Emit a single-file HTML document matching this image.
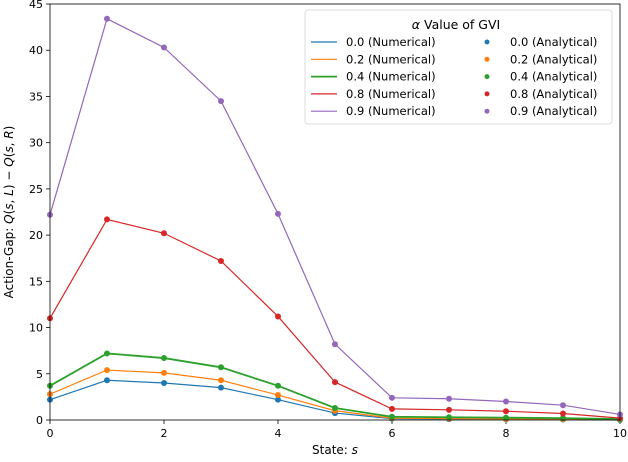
<!DOCTYPE html>
<html><head><meta charset="utf-8"><style>
body{margin:0;background:#fff;font-family:"DejaVu Sans","Liberation Sans",sans-serif;}
svg text{font-family:"DejaVu Sans","Liberation Sans",sans-serif;fill:#000;}
</style></head><body>
<svg id="chart" width="628" height="458" xmlns="http://www.w3.org/2000/svg"></svg>
<script>
const states=[0,1,2,3,4,5,6,7,8,9,10];
const seriesLabels=["0.0","0.2","0.4","0.8","0.9"];
const colors=["#1f77b4","#ff7f0e","#2ca02c","#d62728","#9467bd"];
const s00=[2.2,4.3,4.0,3.5,2.2,0.75,0.15,0.1,0.08,0.05,0.0];
const s02=[2.8,5.4,5.1,4.3,2.7,1.0,0.2,0.15,0.12,0.1,0.05];
const s04=[3.7,7.2,6.7,5.7,3.7,1.3,0.35,0.3,0.25,0.2,0.1];
const s08=[11.0,21.7,20.2,17.2,11.2,4.1,1.2,1.1,0.95,0.7,0.2];
const s09=[22.2,43.4,40.3,34.5,22.3,8.2,2.4,2.3,2.0,1.6,0.6];
const xTicks=[0,2,4,6,8,10];
const yTicks=[0,5,10,15,20,25,30,35,40,45];
const allSeries=[s00,s02,s04,s08,s09];
const L=50,R=620,T=4,B=420;
const xs=v=>L+(v-0)/(10-0)*(R-L);
const ys=v=>B-(v/45)*(B-T);
const svg=document.getElementById('chart');
const NS="http://www.w3.org/2000/svg";
function mk(t,a,p){const e=document.createElementNS(NS,t);for(const k in a)e.setAttribute(k,a[k]);(p||svg).appendChild(e);return e;}
// ticks
xTicks.forEach(v=>{
 const g=mk('g',{});
 
 
 mk('line',{x1:xs(v),x2:xs(v),y1:B,y2:B+4,stroke:'#000','stroke-width':0.8},g);
 const t=mk('text',{x:xs(v),y:B+17,'text-anchor':'middle','font-size':11},g);t.textContent=v;
});
yTicks.forEach(v=>{
 const g=mk('g',{});
 
 
 mk('line',{x1:L-4,x2:L,y1:ys(v),y2:ys(v),stroke:'#000','stroke-width':0.8},g);
 const t=mk('text',{x:L-7,y:ys(v)+4,'text-anchor':'end','font-size':11},g);t.textContent=v;
});
// series
allSeries.forEach((s,i)=>{
 const p=mk('polyline',{points:s.map((v,j)=>xs(states[j])+','+ys(v)).join(' '),fill:'none',stroke:colors[i],'stroke-width':i==2?1.8:1.2});
 
 
 s.forEach((v,j)=>{
  const c=mk('circle',{cx:xs(states[j]),cy:ys(v),r:3,fill:colors[i]});
  
  
 });
});
const fr=mk('rect',{x:L,y:T,width:R-L,height:B-T,fill:'none',stroke:'#000','stroke-width':0.8});


const xl=mk('text',{x:(L+R)/2,y:454,'text-anchor':'middle','font-size':12});
xl.innerHTML='State: <tspan font-style="italic">s</tspan>';


const yl=mk('text',{x:0,y:0,'text-anchor':'middle','font-size':12,transform:'translate(13,212) rotate(-90)'});
yl.innerHTML='Action-Gap: <tspan font-style="italic">Q</tspan>(<tspan font-style="italic">s</tspan>, <tspan font-style="italic">L</tspan>) − <tspan font-style="italic">Q</tspan>(<tspan font-style="italic">s</tspan>, <tspan font-style="italic">R</tspan>)';


// legend
const lg=mk('g',{});


mk('rect',{x:305,y:10,width:307,height:114,rx:3,fill:'#fff','fill-opacity':0.85,stroke:'#ddd'},lg);
const lt=mk('text',{x:456,y:29,'text-anchor':'middle','font-size':12.5},lg);
lt.innerHTML='<tspan font-style="italic">α</tspan> Value of GVI';
seriesLabels.forEach((lab,i)=>{
 const y=42+i*17.3;
 const e=mk('g',{},lg);
 
 
 mk('line',{x1:311,x2:337,y1:y,y2:y,stroke:colors[i],'stroke-width':i==2?1.8:1.2},e);
 const t=mk('text',{x:346,y:y+4,'font-size':11.5},e);t.textContent=lab+' (Numerical)';
 const e2=mk('g',{},lg);
 
 
 mk('circle',{cx:487,cy:y,r:2.5,fill:colors[i]},e2);
 const t2=mk('text',{x:510,y:y+4,'font-size':11.5},e2);t2.textContent=lab+' (Analytical)';
});
</script>
</body></html>
